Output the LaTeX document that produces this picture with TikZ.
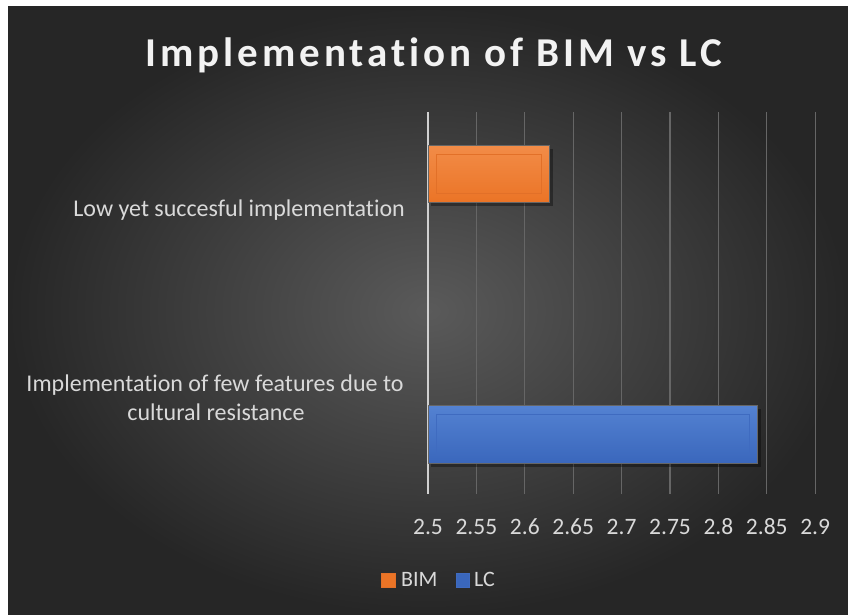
\documentclass[tikz,border=0pt]{standalone}
\usepackage{fontspec}
\setmainfont{Carlito}[Ligatures={NoCommon,NoRequired,NoContextual}]
\newfontfamily\titlefont{Carlito}[Ligatures={NoCommon,NoRequired,NoContextual}, LetterSpace=9.5]
\definecolor{bgin}{HTML}{5A5A5A}
\definecolor{bgout}{HTML}{262626}
\definecolor{gridc}{HTML}{666666}
\definecolor{axisc}{HTML}{D0D0D0}
\definecolor{labelc}{HTML}{D9D9D9}
\definecolor{bimtop}{HTML}{F28C48}
\definecolor{bimbot}{HTML}{EB7426}
\definecolor{bimedge}{HTML}{E27028}
\definecolor{lctop}{HTML}{5482D2}
\definecolor{lcbot}{HTML}{3A67BC}
\definecolor{lcedge}{HTML}{3F6BC0}
\tikzset{
  ticklabel/.style={text=labelc, font=\fontsize{23.5}{28}\selectfont, anchor=base, inner sep=0pt},
  catlabel/.style={text=labelc, font=\fontsize{24}{29}\selectfont, align=center, inner sep=0pt},
  legendtext/.style={text=labelc, font=\fontsize{22}{26}\selectfont, anchor=base west, inner sep=0pt},
  gridline/.style={draw=gridc, line width=1.2pt},
  barshadow/.style={fill=black, opacity=0.35},
}
\begin{document}
\begin{tikzpicture}[x=1pt,y=-1pt]
  \useasboundingbox (0,0) rectangle (848,615);
  % page and chart area
  \fill[white] (0,0) rectangle (848,615);
  \shade[inner color=bgin, outer color=bgout] (8,7) rectangle (848,615);

  % title
  \node[anchor=base, inner sep=0pt, text=white!95!black,
        font=\titlefont\fontsize{41}{47}\bfseries\selectfont] (title) at (434,67) {Implementation of BIM vs LC};

  % vertical gridlines and tick labels
  \foreach \v [count=\i from 0] in {2.5,2.55,2.6,2.65,2.7,2.75,2.8,2.85,2.9} {
    \pgfmathsetmacro{\gx}{428+48.4*\i}
    \ifnum\i>0
      \draw[gridline] (\gx,112) -- (\gx,494);
    \fi
    \node[ticklabel] (t\i) at (\gx,534) {\v};
  }
  % value axis line at 2.5
  \coordinate (axtop) at (428,112);
  \coordinate (axbot) at (428,494);
  \draw[axisc, line width=1.4pt] (axtop) -- (axbot);

  % BIM bar
  \fill[barshadow] (431,149) rectangle (553,206);
  \shade[top color=bimtop, bottom color=bimbot] (428,145) rectangle (549,202);
  \draw[bimedge, line width=0.8pt] (436,154) rectangle (541,193);
  \draw[black!60, line width=0.6pt] (428,145) rectangle (549,202);
  \node[inner sep=0pt, minimum width=121pt, minimum height=57pt] (bim) at (488.5,173.5) {};

  % LC bar
  \fill[barshadow] (431,409) rectangle (761,467);
  \shade[top color=lctop, bottom color=lcbot] (428,405) rectangle (757,463);
  \draw[lcedge, line width=0.8pt] (436,414) rectangle (749,454);
  \draw[black!60, line width=0.6pt] (428,405) rectangle (757,463);
  \node[inner sep=0pt, minimum width=329pt, minimum height=58pt] (lc) at (592.5,434) {};

  % category labels
  \node[catlabel, anchor=base east] (cat1) at (405,216) {Low yet succesful implementation};
  \node[catlabel, anchor=base] (cat2a) at (215,391) {Implementation of few features due to};
  \node[catlabel, anchor=base] (cat2b) at (216,420) {cultural resistance};

  % legend
  \fill[bimbot, draw=bimedge] (381,573) rectangle (395,587);
  \node[legendtext] (lgbim) at (401,586) {BIM};
  \fill[lcbot, draw=lcedge] (456,573) rectangle (469,587);
  \node[legendtext] (lglc) at (474,586) {LC};
\end{tikzpicture}
\end{document}
